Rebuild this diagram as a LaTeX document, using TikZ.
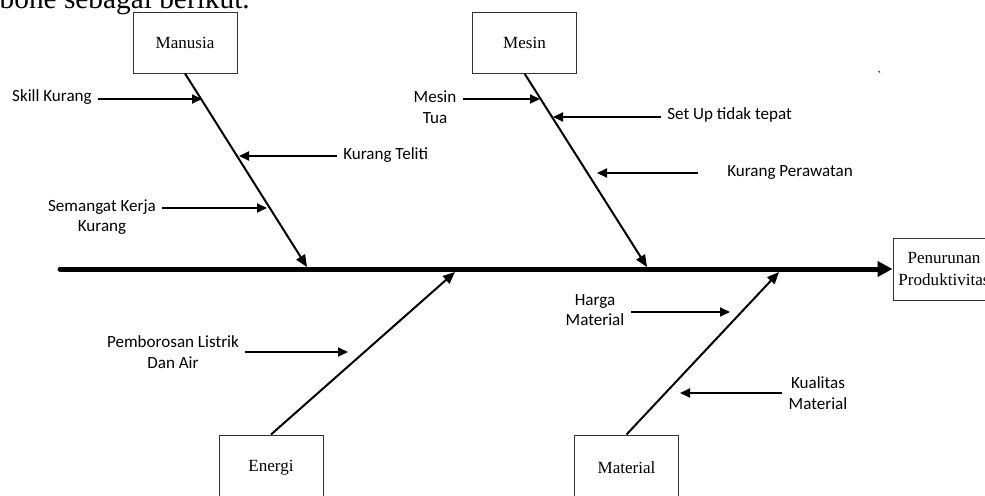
\documentclass[tikz,border=0pt]{standalone}
\usepackage{fontspec}
\setmainfont{Liberation Serif}
\newfontfamily\calfont{Carlito}
\usetikzlibrary{arrows.meta,positioning}

\begin{document}
\begin{tikzpicture}[x=0.75pt,y=-0.75pt,
  cause/.style={draw=black!80,line width=0.75pt,minimum width=78pt,minimum height=45.75pt,
    align=center,font=\fontsize{12.8}{16.5}\selectfont},
  lbl/.style={inner xsep=4.5pt,inner ysep=0pt,align=center,font=\calfont\fontsize{12.8}{15.4}\selectfont},
  bone/.style={line width=1.5pt,-{Triangle[length=9pt,width=7.5pt]}},
  sub/.style={line width=1.5pt,-{Triangle[length=7.5pt,width=6.75pt]}}]
\useasboundingbox (0,0) rectangle (985,496);

% text above the picture, cut off by the page
\node[anchor=base east,inner sep=0pt,font=\fontsize{22}{26}\selectfont] (intro) at (250,8.5) {fishbone sebagai berikut.};
\node[inner sep=0pt,font=\calfont\fontsize{10}{12}\selectfont] (tick) at (879,76) {\textasciigrave};

% categories
\node[cause] (manusia) at (185,42.5) {Manusia};
\node[cause] (mesin) at (524.5,42.5) {Mesin};
\node[cause,minimum height=49.5pt] (energi) at (271,468) {Energi};
\node[cause,minimum height=49.5pt] (material) at (626.5,468) {Material};
\node[cause,minimum width=76.5pt,minimum height=46.5pt] (effect) at (944,269) {Penurunan\\Produktivitas};

% spine
\coordinate (tail) at (60,269);
\draw[line width=3.75pt,line cap=round,-{Triangle[length=11.25pt,width=11.25pt]}] (tail) -- (effect);

% bones
\coordinate (manE) at (307,267);
\coordinate (mesE) at (647,267);
\coordinate (eneE) at (455,272);
\coordinate (matE) at (779,272);
\draw[bone] (manusia.south) -- (manE);
\draw[bone] (mesin.south) -- (mesE);
\draw[bone] (energi.north) -- (eneE);
\draw[bone] (material.north) -- (matE);

% causes
\node[lbl,anchor=east] (skill) at (98,97) {Skill Kurang};
\node[lbl,anchor=west] (teliti) at (337,155) {Kurang Teliti};
\node[lbl] (semangat) at (102,217) {Semangat Kerja\\Kurang};
\node[lbl] (tua) at (435,107) {Mesin\\Tua};
\node[lbl,anchor=west] (setup) at (661,115) {Set Up tidak tepat};
\node[lbl,anchor=west,inner xsep=21.75pt] (rawat) at (698,172) {Kurang Perawatan};
\node[lbl] (listrik) at (173,352) {Pemborosan Listrik\\Dan Air};
\node[lbl] (harga) at (595,310) {Harga\\Material};
\node[lbl] (kualitas) at (818,393) {Kualitas\\Material};

\coordinate (man1) at (202,99);
\coordinate (man2) at (239,156);
\coordinate (man3) at (267,208);
\coordinate (mes1) at (540,99);
\coordinate (mes2) at (553,117);
\coordinate (mes3) at (597,173);
\coordinate (ene1) at (348,352);
\coordinate (mat1) at (730,312);
\coordinate (mat2) at (680,393);

\draw[sub] (skill.east |- man1) -- (man1);
\draw[sub] (teliti.west |- man2) -- (man2);
\draw[sub] (semangat.east |- man3) -- (man3);
\draw[sub] (tua.east |- mes1) -- (mes1);
\draw[sub] (setup.west |- mes2) -- (mes2);
\draw[sub] (rawat.west |- mes3) -- (mes3);
\draw[sub] (listrik.east |- ene1) -- (ene1);
\draw[sub] (harga.east |- mat1) -- (mat1);
\draw[sub] (kualitas.west |- mat2) -- (mat2);
\end{tikzpicture}
\end{document}
